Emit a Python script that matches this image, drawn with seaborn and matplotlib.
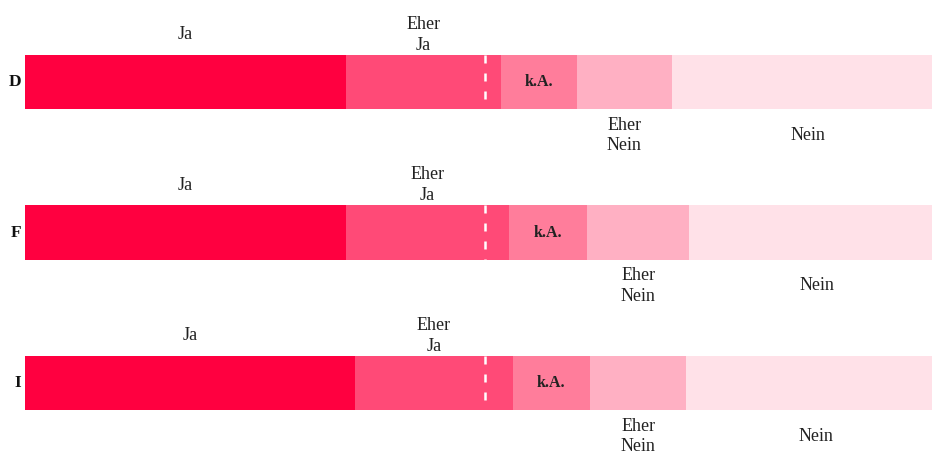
import matplotlib
matplotlib.use("Agg")
import matplotlib.pyplot as plt
import seaborn as sns
import pandas as pd
import numpy as np

# Daten (Prozent)
laender = ['D', 'F', 'I']
kategorien = ['Ja', 'Eher Ja', 'k.A.', 'Eher Nein', 'Nein']
ja = [34.9, 34.9, 35.9]
eher_ja = [16.8, 17.7, 17.1]
keine_angabe = [8.3, 8.5, 8.4]
eher_nein = [10.3, 11.1, 10.5]
nein = [29.7, 27.8, 28.1]
mitte = 50

farben = ['#FF0040', '#FF4A77', '#FF7D9B', '#FFB0C3', '#FFE1E8']
beschriftung = ['Ja', 'Eher\nJa', 'k.A.', 'Eher\nNein', 'Nein']

df = pd.DataFrame({'land': laender, 'Ja': ja, 'Eher Ja': eher_ja,
                   'k.A.': keine_angabe, 'Eher Nein': eher_nein, 'Nein': nein})
kumuliert = df[kategorien].cumsum(axis=1)

sns.set_style("white")
plt.rcParams['font.family'] = ['Liberation Serif', 'DejaVu Serif']

fig = plt.figure(figsize=(9.32, 4.55), dpi=100)
ax = fig.add_axes([25 / 932, 0, 920 / 932, 1])

# gestapelte Balken: von hinten nach vorne zeichnen
for kat, farbe in reversed(list(zip(kategorien, farben))):
    sns.barplot(x=kumuliert[kat], y=df['land'], color=farbe, width=0.36,
                orient='h', ax=ax, saturation=1, linewidth=0)

ax.set_xlim(0, 100)
ax.set_ylim(2.478, -0.545)
ax.axis('off')

for i, land in enumerate(laender):
    ax.text(-0.45, i, land, ha='right', va='center', fontsize=12.5,
            fontweight='bold', color='#111111')
    links = 0
    for j, kat in enumerate(kategorien):
        wert = df.loc[i, kat]
        xm = links + wert / 2
        if kat == 'k.A.':
            ax.text(xm, i, beschriftung[j], ha='center', va='center',
                    fontsize=11.5, fontweight='bold', color='#222222')
        elif kat in ('Ja', 'Eher Ja'):
            ax.text(xm, i - 0.315, beschriftung[j], ha='center', va='center',
                    fontsize=13, color='#222222', linespacing=1.3)
        else:
            ax.text(xm, i + 0.355, beschriftung[j], ha='center', va='center',
                    fontsize=13, color='#222222', linespacing=1.3)
        links += wert
    ax.plot([mitte, mitte], [i - 0.18, i + 0.18], color='white', lw=1.8,
            dashes=(3.2, 4.0))

plt.savefig('out.png', dpi=100)
